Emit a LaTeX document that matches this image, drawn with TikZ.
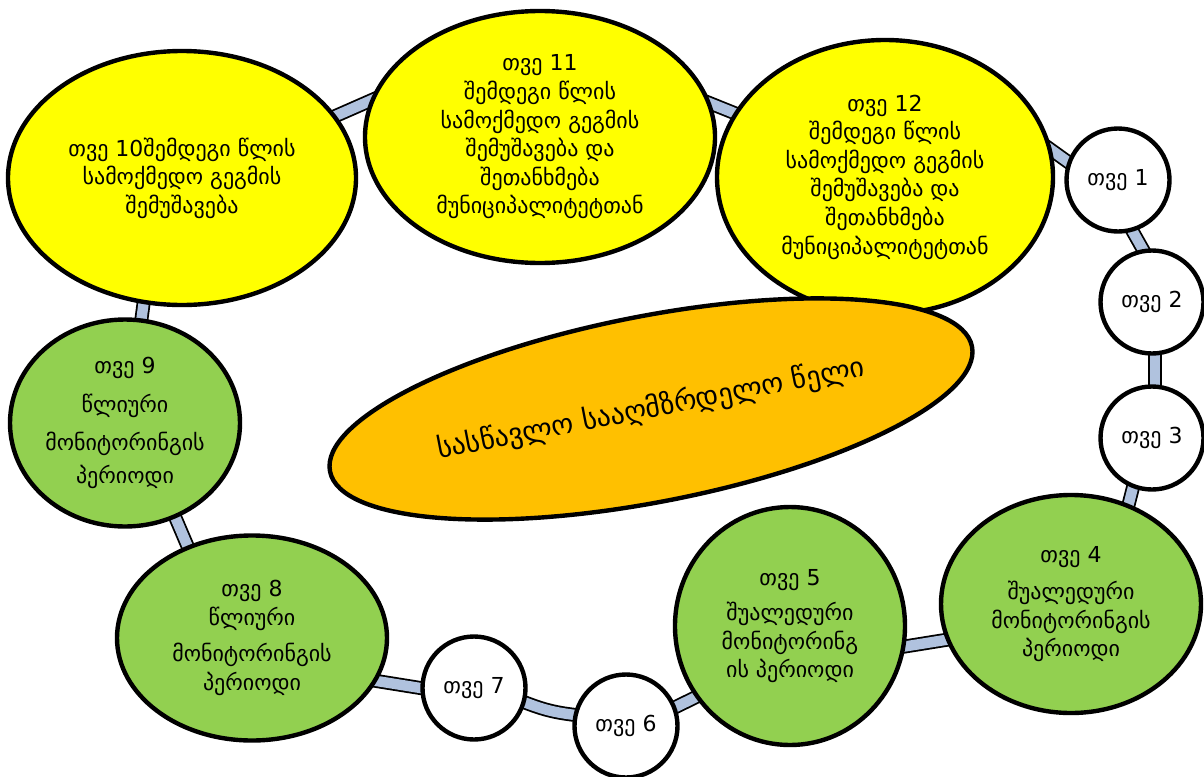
\documentclass[tikz,border=0pt]{standalone}
\usepackage{fontspec}
\setmainfont{DejaVu Sans}
\usetikzlibrary{backgrounds, shapes.geometric}
\definecolor{ringblue}{HTML}{B0C2DE}
\definecolor{planyellow}{HTML}{FFFF00}
\definecolor{monitorgreen}{HTML}{92D050}
\definecolor{yearorange}{HTML}{FFC000}
\tikzstyle{cycle}=[x=0.5pt, y=-0.5pt, font=\fontsize{11}{14.3}\selectfont]
\tikzstyle{month}=[draw=black, line width=2.2pt, inner sep=0pt, align=center]
\tikzstyle{plan}=[month, ellipse, fill=planyellow]
\tikzstyle{monitor}=[month, ellipse, fill=monitorgreen]
\tikzstyle{shortmonth}=[month, circle, fill=white, minimum size=51.5pt]
\tikzstyle{ring}=[draw=black, line width=0.9pt, double=ringblue, double distance=5.2pt, shorten <=-5pt, shorten >=-5pt]

\begin{document}
\begin{tikzpicture}[cycle]
  \useasboundingbox (0,0) rectangle (1204,776);
  \node[plan, minimum width=174pt, minimum height=127pt] (m10) at (182,178) {თვე 10შემდეგი წლის\\სამოქმედო გეგმის\\შემუშავება};
  \node[plan, minimum width=175pt, minimum height=126pt] (m11) at (540,137) {თვე 11\\შემდეგი წლის\\სამოქმედო გეგმის\\შემუშავება და\\შეთანხმება\\მუნიციპალიტეტთან};
  \node[plan, minimum width=168pt, minimum height=137pt] (m12) at (885,177) {თვე 12\\შემდეგი წლის\\სამოქმედო გეგმის\\შემუშავება და\\შეთანხმება\\მუნიციპალიტეტთან};
  \node[shortmonth] (m1) at (1118,180) {თვე 1};
  \node[shortmonth] (m2) at (1152,302) {თვე 2};
  \node[shortmonth] (m3) at (1152,438) {თვე 3};
  \node[monitor, minimum width=130pt, minimum height=109pt] (m4) at (1071,604) {თვე 4\\[4.5pt]შუალედური\\მონიტორინგის\\პერიოდი};
  \node[monitor, minimum width=115pt, minimum height=119pt] (m5) at (790,626) {თვე 5\\[3.5pt]შუალედური\\მონიტორინგ\\ის პერიოდი};
  \node[shortmonth] (m6) at (626,726) {თვე 6};
  \node[shortmonth] (m7) at (474,688) {თვე 7};
  \node[monitor, minimum width=135pt, minimum height=102.5pt] (m8) at (252,638) {თვე 8\\წლიური\\[4pt]მონიტორინგის\\პერიოდი};
  \node[monitor, minimum width=115pt, minimum height=103.5pt] (m9) at (125,423) {თვე 9\\[5pt]წლიური\\[5pt]მონიტორინგის\\[2pt]პერიოდი};
  \node[month, ellipse, fill=yearorange, rotate=11, minimum width=327pt, minimum height=93pt, font=\fontsize{14}{17}\selectfont] (year) at (651,409) {სასწავლო სააღმზრდელო წელი};

  \begin{scope}[on background layer]
    \path (m10.22) edge[ring] (m11.168)
          (m11.11) edge[ring] (m12.157)
          (m12.9) edge[ring] (m1.160)
          (m1.286) edge[ring] (m2.100)
          (m2.273) edge[ring] (m3.87)
          (m3.249) edge[ring] (m4.60)
          (m4.196) edge[ring] (m5.350)
          (m5.217) edge[ring] (m6.21)
          (m6.168) edge[ring, bend left=8] (m7.344)
          (m7.180) edge[ring] (m8.341)
          (m8.125) edge[ring] (m9.298)
          (m9.81) edge[ring] (m10.253);
  \end{scope}
\end{tikzpicture}
\end{document}
